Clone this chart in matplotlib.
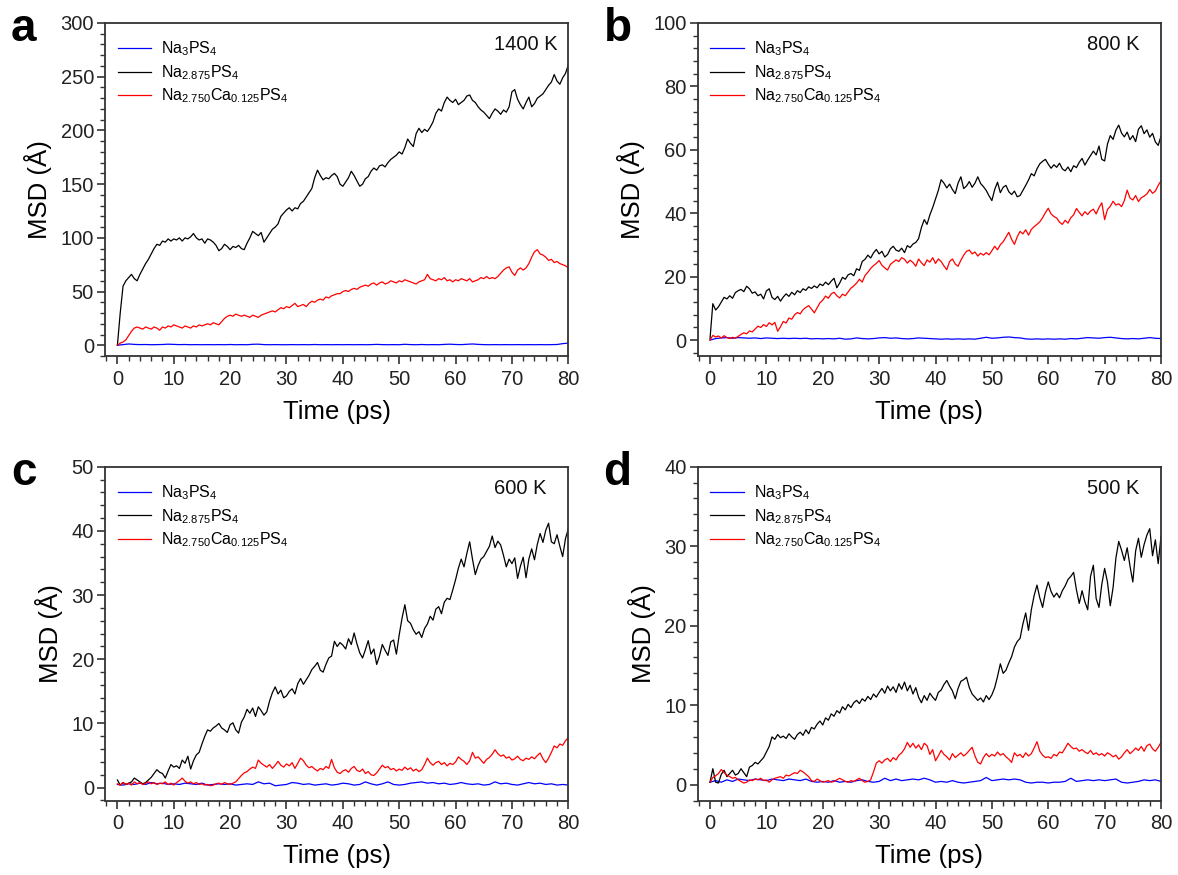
import numpy as np
import matplotlib
matplotlib.use('Agg')
import matplotlib.pyplot as plt
from matplotlib.ticker import MultipleLocator, AutoMinorLocator

plt.rcParams['font.family'] = ['Liberation Sans', 'DejaVu Sans']
plt.rcParams['mathtext.fontset'] = 'custom'
plt.rcParams['mathtext.rm'] = 'Liberation Sans'
plt.rcParams['mathtext.it'] = 'Liberation Sans:italic'
plt.rcParams['mathtext.bf'] = 'Liberation Sans:bold'
plt.rcParams['mathtext.default'] = 'regular'

# ---------------- data ----------------
time_fine = np.arange(161) * 0.5      # 0 ... 80 ps, 0.5 ps sampling
time_coarse = np.arange(81) * 1.0     # 0 ... 80 ps, 1 ps sampling

series_labels = [r'Na$_3$PS$_4$', r'Na$_{2.875}$PS$_4$', r'Na$_{2.750}$Ca$_{0.125}$PS$_4$']
temperatures = ['1400 K', '800 K', '600 K', '500 K']
panel_letters = ['a', 'b', 'c', 'd']

# ---- panel a (1400 K)
a_na3 = [0, 0.6, 1.2, 0.8, 0.6, 0.7, 0.5, 0.6, 0.7, 1.0, 0.8, 0.6, 0.7, 0.5, 0.6, 0.5, 0.6, 0.5, 0.6, 0.5,
         0.7, 0.5, 0.6, 0.5, 0.9, 1.0, 0.6, 0.5, 0.6, 0.5, 0.5, 0.6, 0.5, 0.6, 0.5, 0.7, 0.5, 0.6, 0.5, 0.6,
         0.5, 0.6, 0.5, 0.6, 0.5, 0.6, 0.8, 0.6, 0.5, 0.6, 0.5, 0.9, 0.6, 0.5, 0.7, 0.5, 0.6, 0.5, 0.8, 1.0,
         0.7, 0.6, 0.9, 1.2, 0.8, 0.6, 0.5, 0.6, 0.5, 0.6, 0.5, 0.6, 0.5, 0.6, 0.5, 0.6, 0.5, 0.6, 0.7, 1.5,
         2.0]
a_na2875 = [0, 30, 55, 60, 63, 66, 62, 60, 66, 71, 76, 80, 85, 90, 94, 93, 97, 96, 99, 97,
            99, 98, 100, 97, 100, 99, 101, 104, 100, 98, 99, 95, 99, 98, 96, 93, 88, 90, 94, 92,
            89, 92, 91, 93, 90, 89, 95, 100, 106, 104, 102, 105, 96, 100, 104, 108, 110, 113, 120, 123,
            126, 128, 125, 128, 127, 132, 134, 138, 142, 146, 156, 163, 158, 154, 156, 155, 158, 160, 157, 150,
            148, 152, 156, 162, 158, 153, 148, 150, 155, 157, 162, 165, 163, 167, 168, 166, 170, 173, 175, 177,
            180, 178, 184, 192, 188, 185, 197, 202, 198, 201, 199, 203, 208, 216, 220, 218, 226, 231, 228, 226,
            229, 224, 226, 228, 232, 233, 228, 226, 222, 219, 217, 214, 211, 216, 220, 218, 215, 219, 217, 222,
            236, 238, 229, 224, 220, 226, 231, 222, 225, 230, 232, 234, 238, 242, 245, 252, 246, 243, 249, 253,
            261]
a_naca = [0, 2, 3, 5, 9, 13, 16, 17, 16, 15, 17, 16, 15, 17, 16, 14, 17, 16, 18, 17,
          19, 18, 17, 16, 18, 17, 16, 18, 17, 19, 18, 19, 20, 19, 21, 20, 19, 22, 25, 27,
          28, 27, 29, 28, 27, 28, 27, 26, 28, 27, 26, 28, 29, 30, 31, 32, 31, 33, 35, 34,
          36, 35, 37, 39, 36, 37, 38, 36, 39, 41, 40, 42, 43, 42, 45, 44, 46, 47, 48, 48,
          50, 51, 50, 52, 53, 52, 54, 55, 56, 55, 57, 58, 56, 58, 59, 57, 58, 60, 59, 58,
          60, 59, 61, 60, 59, 58, 57, 59, 60, 61, 66, 62, 61, 60, 62, 61, 63, 60, 61, 59,
          61, 60, 62, 61, 60, 62, 59, 60, 61, 63, 62, 64, 62, 63, 62, 64, 67, 70, 72, 73,
          68, 65, 70, 72, 70, 72, 76, 82, 87, 89, 85, 84, 82, 79, 80, 77, 78, 76, 75, 74,
          72]

# ---- panel b (800 K)
b_na3 = [0.0, 0.5, 0.7, 0.8, 0.6, 0.8, 0.7, 0.6, 0.7, 0.5, 0.7, 0.6, 0.5, 0.6, 0.5, 0.6, 0.5, 0.6, 0.4, 0.5,
         0.4, 0.5, 0.4, 0.6, 0.3, 0.4, 0.7, 0.5, 0.4, 0.5, 0.7, 0.8, 0.6, 0.7, 0.5, 0.4, 0.5, 0.7, 0.6, 0.5,
         0.4, 0.3, 0.4, 0.3, 0.4, 0.3, 0.4, 0.3, 0.6, 0.9, 0.6, 0.7, 0.9, 1.0, 0.8, 0.7, 0.4, 0.3, 0.4, 0.3,
         0.4, 0.3, 0.4, 0.3, 0.5, 0.4, 0.6, 0.8, 0.7, 0.6, 0.8, 0.9, 0.7, 0.5, 0.4, 0.5, 0.4, 0.6, 0.8, 0.6,
         0.5]
b_na2875 = [0.4, 11.5, 9.5, 10.5, 12, 13.5, 13, 14, 13.2, 15, 15.6, 16, 15.3, 17, 16.2, 14.8, 15.2, 14, 14.5, 13,
            15.5, 16.2, 13.5, 12.8, 13.8, 12.3, 13.6, 14.6, 13.8, 15.1, 14.3, 15.6, 15, 16.2, 15.7, 16.8, 16.3, 17.1, 16.5, 17.7,
            17.2, 18.3, 17.5, 18.6, 19.5, 16.5, 18, 19.8, 19.2, 20.6, 21, 20.3, 22.5, 22, 24.8, 25.5, 26.8, 25.9, 27.5, 28.6,
            27.2, 28, 26.2, 27, 28.8, 29.6, 28.4, 28, 29, 27.6, 29.8, 29.2, 30.3, 30.8, 32, 35.5, 38, 36.5, 39.5, 41.8,
            44.5, 47.2, 50.6, 49.5, 48, 49.2, 47.5, 46.2, 49.5, 51.5, 47.8, 48.6, 50, 48.2, 49.5, 51.5, 49.4, 48.4, 47.2, 45.5,
            44, 47.5, 49.8, 46.5, 48.2, 48.8, 46.8, 45.9, 47, 45.2, 45.6, 47.2, 48.8, 50.5, 52.5, 51.8, 54, 55.6, 56.4, 57,
            55.5, 54.2, 55.3, 54.5, 55.8, 54, 53.4, 54.6, 53.1, 55, 54.4, 56.1, 57.3, 55.2, 56.8, 58.2, 59.6, 58.4, 61.2, 57,
            56.5, 61.8, 64.5, 63.3, 66.2, 67.8, 65.3, 64.1, 65.6, 63.2, 64.5, 62.6, 66.5, 67.6, 65.1, 66.3, 64, 65.2, 62.5, 61.4,
            64.3]
b_naca = [0, 1.5, 1.0, 1.3, 0.7, 1.4, 0.8, 0.5, 0.9, 0.6, 1.2, 1.8, 2.3, 2.0, 2.9, 2.6, 3.5, 4.4, 4.0, 4.9,
          4.3, 5.5, 4.8, 5.6, 2.8, 4.2, 5.9, 5.4, 7.0, 6.6, 8.0, 8.7, 8.3, 9.6, 10.3, 10.9, 9.8, 8.6, 10.2, 11.8,
          12.6, 13.9, 13.2, 14.6, 15.1, 14.0, 13.3, 14.5, 14.0, 15.2, 16.4, 17.1, 18.0, 19.2, 18.3, 20.4, 21.4, 22.6, 23.5, 24.2,
          25.1, 23.6, 22.8, 22.1, 23.9, 24.6, 25.3, 24.8, 26, 25.5, 24.3, 25.2, 24.5, 23.3, 25.6, 24.4, 23.5, 25.3, 24.6, 26,
          24.2, 25.6, 24.8, 23.4, 22.2, 24.8, 25.6, 24, 23.3, 25.2, 26.8, 28, 28.4, 27.2, 27.8, 26.5, 27.4, 26.8, 27.6, 26.9,
          28.2, 29.6, 28.5, 30.1, 31, 32.5, 34, 31.8, 30.2, 32.6, 34.3, 33.5, 34.8, 33.1, 34.9, 35.8, 36.5, 37.3, 38.6, 40.2,
          41.6, 39.8, 39, 38.5, 37.2, 36.5, 37.8, 36.9, 38.6, 39.5, 41.5, 40.3, 39.2, 40.5, 39.6, 40.7, 41.3, 39.8, 41.8, 43.3,
          38, 41.2, 42.2, 43.8, 42.6, 43, 42.1, 44, 47.3, 44.8, 44.2, 45.6, 43.7, 44.9, 45.4, 46.1, 47.5, 46.3, 47, 48.8,
          50.2]

# ---- panel c (600 K)
c_na3 = [0.5, 0.4, 0.6, 0.5, 0.7, 0.5, 0.8, 0.6, 0.7, 0.5, 0.6, 0.5, 0.7, 0.6, 0.5, 0.7, 0.4, 0.5, 0.6, 0.5,
         0.6, 0.4, 0.5, 0.6, 0.5, 0.9, 0.6, 0.7, 0.3, 0.4, 0.5, 0.8, 0.7, 0.5, 0.6, 0.4, 0.5, 0.6, 0.4, 0.5,
         0.7, 0.6, 0.4, 0.5, 0.9, 0.6, 0.4, 0.6, 0.9, 0.5, 0.4, 0.5, 0.7, 0.8, 0.9, 0.7, 0.8, 0.6, 0.7, 0.5,
         0.6, 0.8, 0.6, 0.5, 0.6, 0.4, 0.5, 0.9, 0.6, 0.7, 0.5, 0.4, 0.6, 0.8, 0.6, 0.7, 0.5, 0.6, 0.4, 0.5,
         0.4]
c_na2875 = [1.2, 0.4, 0.8, 0.5, 0.7, 0.9, 1.5, 1.2, 0.9, 0.6, 0.8, 1.2, 1.6, 2.2, 2.8, 2.4, 2.2, 1.5, 2.6, 3.6,
            3.2, 3.4, 3.0, 4.3, 3.8, 4.9, 2.9, 4.2, 5.1, 5.5, 6.8, 8.0, 9.0, 8.8, 9.3, 9.6, 10.0, 9.3, 9.0, 8.6,
            9.8, 10.1, 9.0, 8.5, 10.2, 11.0, 12.2, 11.6, 12.4, 11.1, 12.6, 12.0, 11.3, 11.8, 13.5, 14.8, 15.7, 14.6, 15.2, 14.0,
            14.3, 15.0, 15.4, 14.6, 16.2, 17.0, 16.1, 16.8, 17.5, 18.4, 18.9, 19.5, 18.3, 18.0, 19.2, 20.2, 20.5, 22.8, 22.0, 22.6,
            22.2, 21.6, 23.2, 22.3, 24.1, 22.4, 21.0, 20.2, 21.5, 22.9, 20.8, 21.6, 19.2, 20.5, 22.3, 21.4, 20.6, 22.7, 23.0, 20.8,
            23.8, 26.4, 28.5, 26.0, 25.6, 24.6, 23.9, 24.3, 23.4, 24.8, 25.5, 26.7, 26.1, 27.8, 28.2, 27.1, 28.9, 29.5, 29.3, 30.8,
            32.4, 34.2, 35.6, 34.4, 36.5, 38.3, 35.6, 33.2, 34.6, 35.6, 36.0, 36.8, 37.6, 39.2, 37.4, 38.4, 37.8, 36.2, 34.4, 35.6,
            34.9, 35.8, 32.6, 34.5, 35.9, 32.7, 35.6, 37.2, 35.5, 37.9, 39.6, 38.2, 40.1, 41.2, 38.3, 38.0, 39.4, 37.6, 36.0, 38.8,
            40.3]
c_naca = [0.6, 0.4, 0.8, 0.5, 0.7, 0.4, 0.9, 0.6, 0.8, 0.5, 0.7, 0.9, 0.6, 0.8, 0.5, 0.7, 0.6, 0.9, 0.5, 0.7,
          0.4, 0.8, 1.1, 1.5, 1.0, 0.7, 0.9, 0.6, 0.8, 0.5, 0.6, 0.4, 0.5, 0.3, 0.4, 0.6, 0.7, 0.5, 0.8, 0.6,
          0.5, 0.7, 0.9, 1.4, 1.9, 2.3, 2.5, 2.9, 3.2, 3.0, 4.3, 3.8, 3.5, 3.2, 3.6, 3.0, 3.5, 4.1, 3.5, 3.2,
          3.7, 3.4, 3.9, 3.0, 3.8, 4.6, 4.2, 3.5, 3.1, 3.3, 2.9, 2.6, 3.0, 2.8, 3.3, 3.0, 4.4, 3.1, 2.4, 2.2,
          2.6, 2.8, 2.4, 3.0, 3.3, 2.7, 2.5, 2.9, 2.2, 2.5, 2.0, 1.9, 2.3, 2.9, 3.5, 3.1, 3.3, 2.8, 3.0, 2.6,
          2.9, 2.7, 3.2, 2.8, 3.1, 2.6, 2.9, 2.5, 2.8, 3.6, 4.6, 3.9, 3.5, 3.9, 4.1, 3.6, 3.9, 3.4, 3.8, 3.6,
          4.0, 4.8, 4.4, 4.1, 3.6, 4.2, 5.5, 4.6, 4.8, 4.3, 3.8, 4.4, 4.7, 5.2, 5.9, 5.3, 4.9, 5.1, 4.6, 4.8,
          4.3, 4.5, 4.9, 4.4, 4.2, 4.6, 4.4, 4.8, 4.5, 5.0, 5.4, 4.5, 3.9, 4.6, 5.5, 6.5, 6.2, 6.8, 6.6, 7.3,
          7.8]

# ---- panel d (500 K)
d_na3 = [0.3, 0.5, 0.3, 0.6, 0.4, 0.7, 0.6, 0.5, 0.7, 0.6, 0.5, 0.7, 0.6, 0.5, 0.7, 0.6, 0.5, 0.7, 0.4, 0.3,
         0.4, 0.3, 0.5, 0.3, 0.4, 0.3, 0.5, 0.6, 0.4, 0.3, 0.4, 0.8, 0.5, 0.7, 0.5, 0.6, 0.7, 0.6, 0.8, 0.6,
         0.3, 0.4, 0.3, 0.5, 0.3, 0.2, 0.3, 0.4, 0.5, 0.9, 0.5, 0.6, 0.7, 0.6, 0.7, 0.6, 0.3, 0.2, 0.3, 0.3,
         0.2, 0.3, 0.3, 0.4, 0.8, 0.4, 0.5, 0.6, 0.5, 0.6, 0.5, 0.6, 0.7, 0.3, 0.2, 0.3, 0.4, 0.6, 0.5, 0.6,
         0.4]
d_na2875 = [0.3, 2.0, 0.3, 0.2, 1.3, 1.8, 1.0, 1.4, 1.8, 1.2, 1.4, 2.0, 1.5, 1.0, 2.2, 2.4, 2.8, 2.6, 3.0, 3.4,
            4.1, 4.8, 6.0, 5.7, 6.3, 5.9, 6.1, 5.8, 6.4, 6.0, 5.7, 6.3, 6.6, 6.2, 6.9, 6.4, 7.2, 7.0, 7.6, 8.0,
            7.5, 8.4, 8.1, 8.9, 8.6, 9.3, 9.0, 9.8, 9.4, 10.1, 9.7, 10.3, 10.6, 10.2, 10.8, 10.5, 11.1, 10.7, 11.4, 11.0,
            11.6, 12.1, 11.5, 12.4, 11.8, 12.3, 11.6, 12.7, 12.0, 12.9, 11.8, 12.5, 11.4, 12.2, 11.0, 10.3, 11.2, 10.6, 11.5, 11.0,
            10.6, 11.6, 11.9, 12.6, 13.1, 12.4, 11.8, 10.8, 12.1, 13.0, 13.2, 13.5, 12.2, 11.4, 11.0, 10.6, 10.9, 10.4, 11.2, 10.7,
            11.3, 12.2, 13.6, 15.2, 14.0, 14.4, 15.3, 16.1, 17.3, 18.0, 18.4, 20.2, 21.6, 19.4, 22.0, 23.8, 25.1, 23.5, 22.3, 24.2,
            25.5, 24.3, 23.6, 24.1, 23.5, 24.4, 25.0, 25.8, 26.2, 26.7, 24.5, 22.8, 24.4, 23.0, 22.0, 26.2, 27.6, 23.4, 22.3, 25.2,
            27.2, 25.5, 22.5, 24.8, 28.5, 30.6, 29.5, 28.2, 29.8, 27.5, 25.5, 29.4, 31.0, 28.6, 30.2, 31.4, 32.2, 28.8, 30.8, 27.8,
            31.2]
d_naca = [0.3, 0.9, 1.1, 1.4, 1.9, 1.5, 1.2, 1.0, 0.8, 0.9, 0.6, 0.4, 0.2, 0.3, 0.6, 0.5, 0.7, 0.6, 0.8, 0.5,
          0.6, 0.3, 0.6, 0.8, 0.9, 1.0, 0.8, 1.2, 1.1, 1.3, 1.5, 1.4, 1.8, 1.6, 1.3, 1.0, 0.5, 0.4, 0.7, 0.5,
          0.3, 0.4, 0.5, 0.3, 0.4, 0.6, 0.8, 0.6, 0.4, 0.3, 0.5, 0.4, 0.6, 0.8, 0.5, 0.3, 0.4, 0.6, 1.6, 2.7,
          3.0, 2.7, 3.1, 3.3, 2.9, 3.4, 3.1, 3.7, 4.0, 4.5, 5.3, 4.7, 5.2, 4.6, 5.0, 4.4, 5.2, 4.9, 3.8, 4.4,
          3.0, 3.6, 4.3, 3.8, 3.5, 3.1, 3.9, 3.4, 3.7, 4.0, 3.6, 3.9, 4.3, 4.7, 3.6, 2.8, 2.6, 3.4, 3.9, 3.5,
          3.8, 3.6, 4.1, 3.7, 3.9, 3.5, 3.2, 2.8, 4.0, 3.6, 3.8, 3.4, 4.0, 3.6, 3.9, 4.6, 5.4, 4.2, 3.7, 3.4,
          3.5, 3.3, 3.8, 3.6, 4.1, 4.0, 4.6, 5.2, 4.8, 4.5, 4.6, 4.2, 4.4, 4.1, 3.9, 4.3, 3.8, 4.0, 3.7, 3.9,
          3.6, 4.0, 3.8, 3.5, 3.7, 3.2, 3.5, 4.0, 4.4, 3.9, 4.2, 4.6, 4.3, 4.8, 4.2, 4.9, 5.1, 4.5, 4.2, 4.7,
          5.3]

panel_data = [
    (a_na3, a_na2875, a_naca),
    (b_na3, b_na2875, b_naca),
    (c_na3, c_na2875, c_naca),
    (d_na3, d_na2875, d_naca),
]
y_limits = [(-10, 300), (-5, 100), (-2, 50), (-2, 40)]
y_major = [50, 20, 10, 10]

# ---------------- layout ----------------
W, H = 1178, 875
fig = plt.figure(figsize=(W / 100, H / 100), dpi=100)

boxes_px = [  # left, top, right, bottom in pixels
    (105, 23, 568.3, 356),
    (697.6, 23, 1161, 356),
    (105, 466.7, 568.3, 800.5),
    (697.6, 466.7, 1161, 800.5),
]
colors = ['#0000ff', '#000000', '#ff0000']
frame_col = '#333333'

for i, (l, t, r, b) in enumerate(boxes_px):
    ax = fig.add_axes([l / W, 1 - b / H, (r - l) / W, (b - t) / H])
    blue, black, red = panel_data[i]
    ax.plot(time_coarse, blue, color=colors[0], lw=0.9, label=series_labels[0])
    ax.plot(time_fine, black, color=colors[1], lw=0.9, label=series_labels[1])
    ax.plot(time_fine, red, color=colors[2], lw=0.9, label=series_labels[2])

    ax.set_xlim(-2.2, 80)
    ax.set_ylim(*y_limits[i])
    ax.xaxis.set_major_locator(MultipleLocator(10))
    ax.xaxis.set_minor_locator(MultipleLocator(2))
    ax.yaxis.set_major_locator(MultipleLocator(y_major[i]))
    ax.yaxis.set_minor_locator(AutoMinorLocator(5))
    ax.tick_params(which='both', direction='out', top=False, right=False,
                   colors=frame_col, labelcolor='#222222', labelsize=14.5)
    ax.tick_params(which='major', length=6, width=1.2)
    ax.tick_params(which='minor', length=3.5, width=1.0)
    ax.tick_params(axis='x', which='major', pad=4)
    ax.tick_params(axis='y', which='major', pad=2)
    for sp in ax.spines.values():
        sp.set_color(frame_col)
        sp.set_linewidth(1.3)

    ax.set_xlabel('Time (ps)', fontsize=18.5, labelpad=8)
    ax.set_ylabel('MSD (Å)', fontsize=18.5, labelpad=6)

    leg = ax.legend(loc='upper left', bbox_to_anchor=(0.0, 0.988), frameon=False,
                    fontsize=11.5, handlelength=2.1, handletextpad=0.6,
                    labelspacing=0.3, borderaxespad=0.3, borderpad=0.5)
    ax.text(0.84, 0.935, temperatures[i], transform=ax.transAxes,
            ha='left', va='center', fontsize=14.5, color='#111111')

    fig.text((l - 94) / W, 1 - (t + 6) / H, panel_letters[i], fontsize=33,
             fontweight='bold', ha='left', va='center')

fig.savefig('out.png', dpi=100)
